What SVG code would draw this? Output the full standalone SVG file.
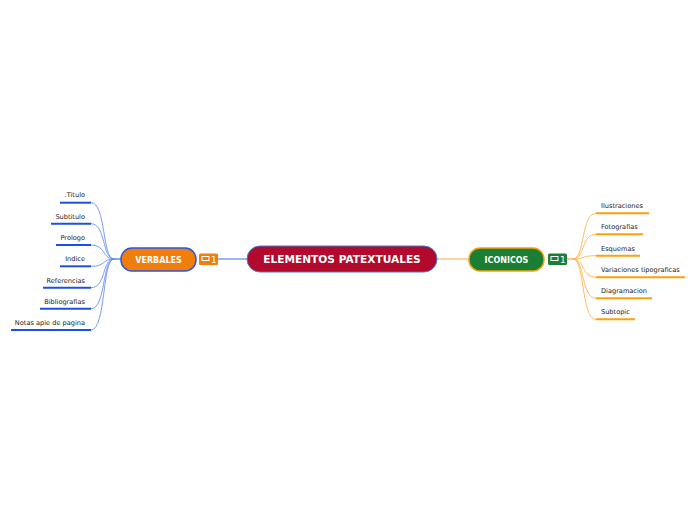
<svg xmlns="http://www.w3.org/2000/svg" width="696" height="520" viewBox="0 0 696 520">
<style>
.t{font-family:Verdana,"DejaVu Sans",sans-serif;font-size:6.6px;fill:#222}
.bl{stroke:#1d4fe8;stroke-width:2;fill:none}
.ol{stroke:#ff9f0a;stroke-width:2;fill:none}
.bc{stroke:#6d90f2;stroke-width:0.9;fill:none}
.oc{stroke:#ffb54a;stroke-width:0.9;fill:none}
.nt{font-family:Verdana,"DejaVu Sans",sans-serif;font-weight:bold;fill:#fff;text-anchor:middle}
.bt{font-family:Verdana,"DejaVu Sans",sans-serif;font-size:9px;fill:#fff}
</style>
<rect width="696" height="520" fill="#fff"/>
<g id="connectors">
<line x1="218" y1="259" x2="247" y2="259" stroke="#3a6ee8" stroke-width="1"/>
<line x1="437" y1="259" x2="469" y2="259" stroke="#f5a54a" stroke-width="1"/>
<path class="bc" d="M91,202.7 C106,202.7 102,259 114,259"/>
<path class="bc" d="M91,223.7 C106,223.7 102,259 114,259"/>
<path class="bc" d="M91,245 C106,245 102,259 114,259"/>
<path class="bc" d="M91,266.3 C106,266.3 102,259 114,259"/>
<path class="bc" d="M91,287.7 C106,287.7 102,259 114,259"/>
<path class="bc" d="M91,308.7 C106,308.7 102,259 114,259"/>
<path class="bc" d="M91,330 C106,330 102,259 114,259"/>
<line x1="113" y1="259" x2="121" y2="259" stroke="#3a6ee8" stroke-width="1.2"/>
<path class="oc" d="M596,213.3 C581,213.3 585,259 573,259"/>
<path class="oc" d="M596,234.3 C581,234.3 585,259 573,259"/>
<path class="oc" d="M596,255.7 C581,255.7 585,259 573,259"/>
<path class="oc" d="M596,277.3 C581,277.3 585,259 573,259"/>
<path class="oc" d="M596,298.3 C581,298.3 585,259 573,259"/>
<path class="oc" d="M596,319.3 C581,319.3 585,259 573,259"/>
<line x1="567" y1="259" x2="574" y2="259" stroke="#f5a54a" stroke-width="1.2"/>
</g>
<g id="central">
<rect x="247" y="246" width="190" height="26" rx="13" fill="#b20a2c" stroke="#3d7fd4" stroke-width="1"/>
<text class="nt" x="342" y="263" font-size="10.6">ELEMENTOS PATEXTUALES</text>
</g>
<g id="verbales">
<rect x="121" y="248" width="75" height="23" rx="11" fill="#f07d0c" stroke="#2257e8" stroke-width="1.5"/>
<text class="nt" x="158.5" y="263" font-size="8">VERBALES</text>
<rect x="199" y="253.5" width="19" height="11.5" rx="1.5" fill="#f07d0c"/>
<rect x="202" y="256.5" width="7" height="4" fill="none" stroke="#fff" stroke-width="1"/>
<text class="bt" x="211" y="263">1</text>
</g>
<g id="iconicos">
<rect x="469" y="248" width="75" height="23" rx="11" fill="#1a7f35" stroke="#f5a10e" stroke-width="1.5"/>
<text class="nt" x="506.5" y="263" font-size="8">ICONICOS</text>
<rect x="548" y="253.5" width="19" height="11.5" rx="1.5" fill="#1a7f35"/>
<rect x="551" y="256.5" width="7" height="4" fill="none" stroke="#fff" stroke-width="1"/>
<text class="bt" x="560" y="263">1</text>
</g>
<g id="titulo"><line class="bl" x1="60" y1="202.7" x2="91" y2="202.7"/><text class="t" x="85" y="197" text-anchor="end">.Titulo</text></g>
<g id="subtitulo"><line class="bl" x1="51" y1="223.7" x2="91" y2="223.7"/><text class="t" x="85" y="218.5" text-anchor="end">Subtitulo</text></g>
<g id="prologo"><line class="bl" x1="56" y1="245" x2="91" y2="245"/><text class="t" x="85" y="239.5" text-anchor="end">Prologo</text></g>
<g id="indice"><line class="bl" x1="60" y1="266.3" x2="91" y2="266.3"/><text class="t" x="85" y="261" text-anchor="end">Indice</text></g>
<g id="referencias"><line class="bl" x1="43" y1="287.7" x2="91" y2="287.7"/><text class="t" x="85" y="282.5" text-anchor="end">Referencias</text></g>
<g id="bibliografias"><line class="bl" x1="40" y1="308.7" x2="91" y2="308.7"/><text class="t" x="85" y="303.5" text-anchor="end">Bibliografias</text></g>
<g id="notas"><line class="bl" x1="11" y1="330" x2="91" y2="330"/><text class="t" x="85" y="325" text-anchor="end">Notas apie de pagina</text></g>
<g id="ilustraciones"><line class="ol" x1="596" y1="213.3" x2="649" y2="213.3"/><text class="t" x="601" y="208">Ilustraciones</text></g>
<g id="fotografias"><line class="ol" x1="596" y1="234.3" x2="643" y2="234.3"/><text class="t" x="601" y="229">Fotografias</text></g>
<g id="esquemas"><line class="ol" x1="596" y1="255.7" x2="640" y2="255.7"/><text class="t" x="601" y="250.5">Esquemas</text></g>
<g id="variaciones"><line class="ol" x1="596" y1="277.3" x2="685" y2="277.3"/><text class="t" x="601" y="272">Variaciones tipograficas</text></g>
<g id="diagramacion"><line class="ol" x1="596" y1="298.3" x2="652" y2="298.3"/><text class="t" x="601" y="293">Diagramacion</text></g>
<g id="subtopic"><line class="ol" x1="596" y1="319.3" x2="635" y2="319.3"/><text class="t" x="601" y="314">Subtopic</text></g>
</svg>
